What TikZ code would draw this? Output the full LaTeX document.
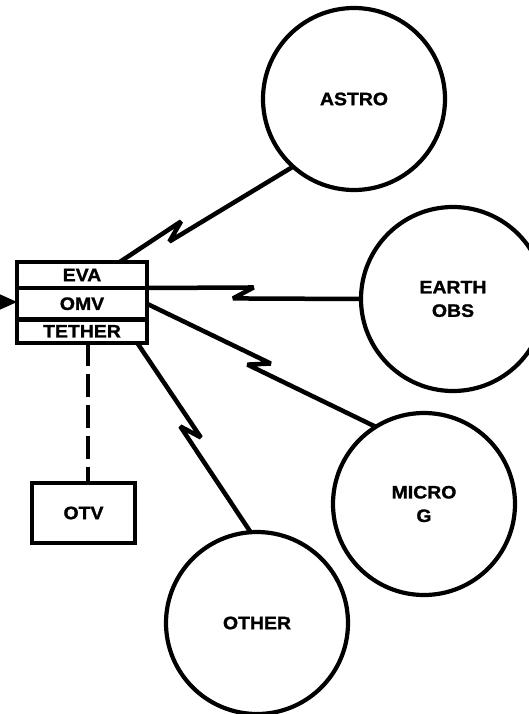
\documentclass[tikz,border=0pt]{standalone}
\usepackage{fontspec}
\setmainfont{Liberation Sans}[FakeStretch=1.08,BoldFeatures={FakeBold=1.3}]
\usetikzlibrary{calc,arrows.meta}
\begin{document}
\begin{tikzpicture}[x=1pt,y=-1pt,
  lw/.style={line width=4.2pt},
  txt/.style={font=\fontsize{18}{23.5}\selectfont\bfseries},
  ball/.style={circle,draw,lw,txt,inner sep=0pt,outer sep=0pt,minimum size=#1,align=center},
  row/.style={draw,lw,txt,inner sep=0pt,outer sep=0pt,minimum width=130pt,minimum height=#1},
  link/.style={line width=4.5pt,line join=miter,miter limit=3},
  bolt/.style={to path={
    -- ($(\tikztostart)!#1!(\tikztotarget)!10pt!(\tikztotarget)!6pt!90:(\tikztotarget)$)
    -- ($(\tikztostart)!#1!(\tikztotarget)!-10pt!(\tikztotarget)!6pt!-90:(\tikztotarget)$)
    -- (\tikztotarget)}}
]
\clip (0,0) rectangle (529,714);
\fill[white] (0,0) rectangle (529,714);

% satellites
\node[ball=182pt] (astro) at (354,99) {ASTRO};
\node[ball=184pt] (earth) at (453,299) {EARTH\\OBS};
\node[ball=182pt] (micro) at (424,504) {MICRO\\G};
\node[ball=182pt] (other) at (257,623) {OTHER};

% stacked box
\node[row=26pt] (eva) at (82,275) {EVA};
\node[row=31.5pt] (omv) at (82,303.75) {OMV};
\node[row=23.5pt] (tether) at (82,331.25) {TETHER};

% OTV
\node[draw,lw,txt,inner sep=0pt,outer sep=0pt,minimum width=103pt,minimum height=60pt] (otv) at (83.5,513) {OTV};

% incoming arrow
\coordinate (inlet) at (0,302);
\draw[line width=1pt,-{Triangle[length=17pt,width=15pt]}] (inlet) -- (inlet -| omv.west);

% links
\draw[link] (eva.19) to[bolt=0.32] (astro.228);
\draw[link] (eva.south east) to[bolt=0.45] (earth.180);
\draw[link] (omv.east) to[bolt=0.49] (micro.122);
\draw[link] (tether.-12) to[bolt=0.47] (other.94);

% dashed tether
\draw[link,dash pattern=on 23pt off 8pt] (tether.-63) -- (tether.-63 |- otv.north);
\end{tikzpicture}
\end{document}
